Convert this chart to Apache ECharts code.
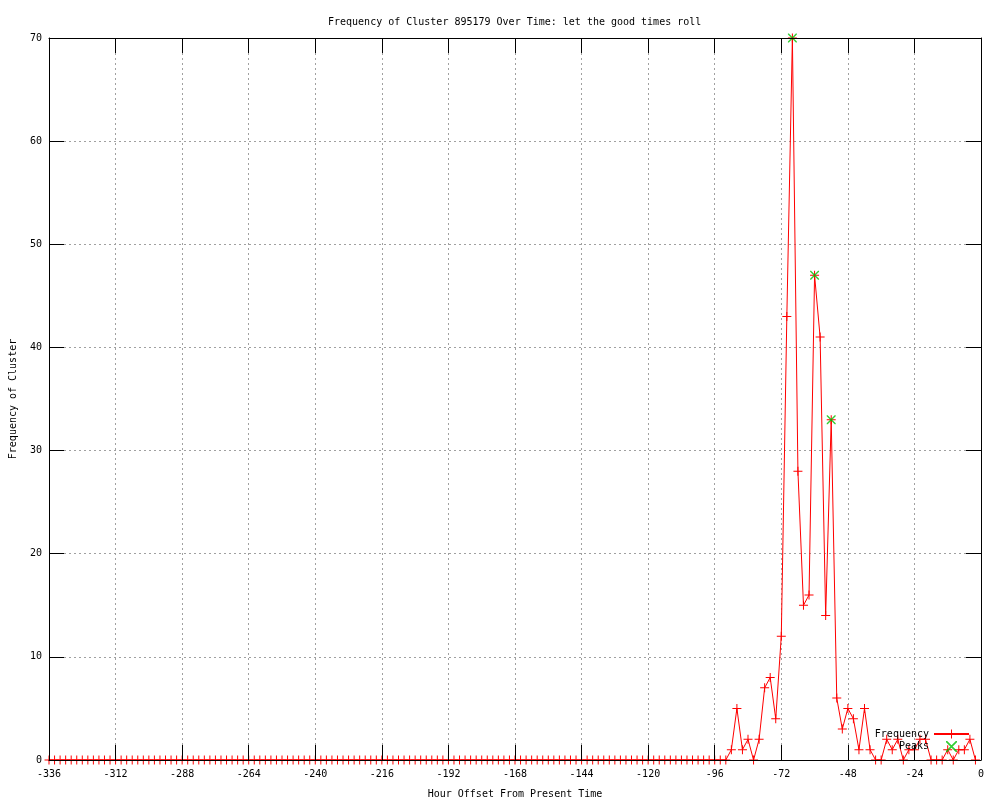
<!DOCTYPE html>
<html>
<head>
<meta charset="utf-8">
<script src="https://cdn.jsdelivr.net/npm/echarts@6/dist/echarts.min.js"></script>
<style>
html,body{margin:0;padding:0;background:#fff;}
#main{width:1000px;height:800px;}
</style>
</head>
<body>
<div id="main"></div>
<script>
// ---- data ----
const titleText = 'Frequency of Cluster 895179 Over Time: let the good times roll';
const xAxisName = 'Hour Offset From Present Time';
const yAxisName = 'Frequency of Cluster';
const xMin = -336, xMax = 0, xStep = 24;
const yMin = 0, yMax = 70, yStep = 10;

// sample hours: every 2 hours from -336 to -2
const hours = [];
for (let h = -336; h <= -2; h += 2) hours.push(h);

// frequency values, one per sampled hour
const freqValues = [
  0,0,0,0,0,0,0,0,0,0,0,0,0,0,0,0,0,0,0,0,
  0,0,0,0,0,0,0,0,0,0,0,0,0,0,0,0,0,0,0,0,
  0,0,0,0,0,0,0,0,0,0,0,0,0,0,0,0,0,0,0,0,
  0,0,0,0,0,0,0,0,0,0,0,0,0,0,0,0,0,0,0,0,
  0,0,0,0,0,0,0,0,0,0,0,0,0,0,0,0,0,0,0,0,
  0,0,0,0,0,0,0,0,0,0,0,0,0,0,0,0,0,0,0,0,
  0,0,
  // -92 .. -74
  0,1,5,1,2,0,2,7,8,4,
  // -72 .. -54
  12,43,70,28,15,16,47,41,14,33,
  // -52 .. -34
  6,3,5,4,1,5,1,0,0,2,
  // -32 .. -14
  1,2,0,1,1,2,2,0,0,0,
  // -12 .. -2
  1,0,1,1,2,0
];

const peakHours = [-68, -60, -54];
const peakValues = [70, 47, 33];

// ---- chart ----
const FONT = 'DejaVu Sans Mono';
const RED = '#ff0000';
const GREEN = '#00c000';
const plusPath = 'path://M0,4h9v1h-9z M4,0h1v9h-1z';
const crossPath = 'path://M0,0L1,0L9,8L9,9L8,9L0,1Z M8,0L9,0L9,1L1,9L0,9L0,8Z';

const freqData = hours.map((h, i) => [h, freqValues[i]]);
const peakData = peakHours.map((h, i) => [h, peakValues[i]]);

const gridLine = {show: true, lineStyle: {color: '#a0a0a0', width: 1, type: [2, 3]}};
const blackLine = {show: true, onZero: false, lineStyle: {color: '#000', width: 1}};
const inTick = {show: true, inside: true, length: 15, lineStyle: {color: '#000', width: 1}};
const lbl = {color: '#000', fontFamily: FONT, fontSize: 10};

const chart = echarts.init(document.getElementById('main'), null, {renderer: 'canvas'});
chart.setOption({
  animation: false,
  backgroundColor: '#fff',
  textStyle: {fontFamily: FONT, fontSize: 10, color: '#000'},
  title: {
    text: titleText,
    left: 323,
    top: 12,
    textStyle: {fontFamily: FONT, fontSize: 10, fontWeight: 'normal', color: '#000'}
  },
  grid: {left: 49, right: 19, top: 38, bottom: 40, containLabel: false, outerBoundsMode: 'none'},
  legend: {
    orient: 'vertical',
    right: 25,
    top: 724,
    align: 'right',
    itemWidth: 35,
    itemHeight: 11,
    itemGap: 2,
    symbolKeepAspect: true,
    textStyle: {fontFamily: FONT, fontSize: 10, color: '#000'},
    data: [
      {name: 'Frequency', itemStyle: {color: RED, borderColor: RED, borderWidth: 0}},
      {name: 'Peaks', icon: crossPath, itemStyle: {color: GREEN, borderColor: GREEN, borderWidth: 0}}
    ]
  },
  xAxis: [
    {
      type: 'value', position: 'bottom', min: xMin, max: xMax, interval: xStep,
      axisLine: {show: false, onZero: false}, axisTick: {show: false},
      axisLabel: Object.assign({margin: 9}, lbl),
      splitLine: gridLine,
      name: xAxisName, nameLocation: 'middle', nameGap: 29,
      nameTextStyle: {fontFamily: FONT, fontSize: 10, color: '#000'},
      z: 0
    },
    {
      type: 'value', position: 'bottom', min: xMin, max: xMax, interval: xStep,
      axisLine: blackLine, axisTick: inTick, axisLabel: {show: false},
      splitLine: {show: false}, z: 10
    },
    {
      type: 'value', position: 'top', min: xMin, max: xMax, interval: xStep,
      axisLine: blackLine, axisTick: inTick, axisLabel: {show: false},
      splitLine: {show: false}, z: 10
    }
  ],
  yAxis: [
    {
      type: 'value', position: 'left', min: yMin, max: yMax, interval: yStep,
      axisLine: {show: false, onZero: false}, axisTick: {show: false},
      axisLabel: Object.assign({margin: 7}, lbl),
      splitLine: gridLine,
      name: yAxisName, nameLocation: 'middle', nameGap: 31,
      nameTextStyle: {fontFamily: FONT, fontSize: 10, color: '#000'},
      z: 0
    },
    {
      type: 'value', position: 'left', min: yMin, max: yMax, interval: yStep,
      axisLine: blackLine, axisTick: inTick, axisLabel: {show: false},
      splitLine: {show: false}, z: 10
    },
    {
      type: 'value', position: 'right', min: yMin, max: yMax, interval: yStep,
      axisLine: blackLine, axisTick: inTick, axisLabel: {show: false},
      splitLine: {show: false}, z: 10
    }
  ],
  series: [
    {
      name: 'Frequency', type: 'line', xAxisIndex: 0, yAxisIndex: 0,
      data: freqData,
      symbol: plusPath, symbolSize: 9, showSymbol: true, showAllSymbol: true,
      clip: false,
      lineStyle: {color: RED, width: 1},
      itemStyle: {color: RED},
      emphasis: {disabled: true},
      z: 2
    },
    {
      name: 'Peaks', type: 'scatter', xAxisIndex: 0, yAxisIndex: 0,
      data: peakData,
      symbol: crossPath, symbolSize: 9,
      clip: false,
      itemStyle: {color: GREEN},
      emphasis: {disabled: true},
      z: 3
    }
  ]
});
</script>
</body>
</html>
